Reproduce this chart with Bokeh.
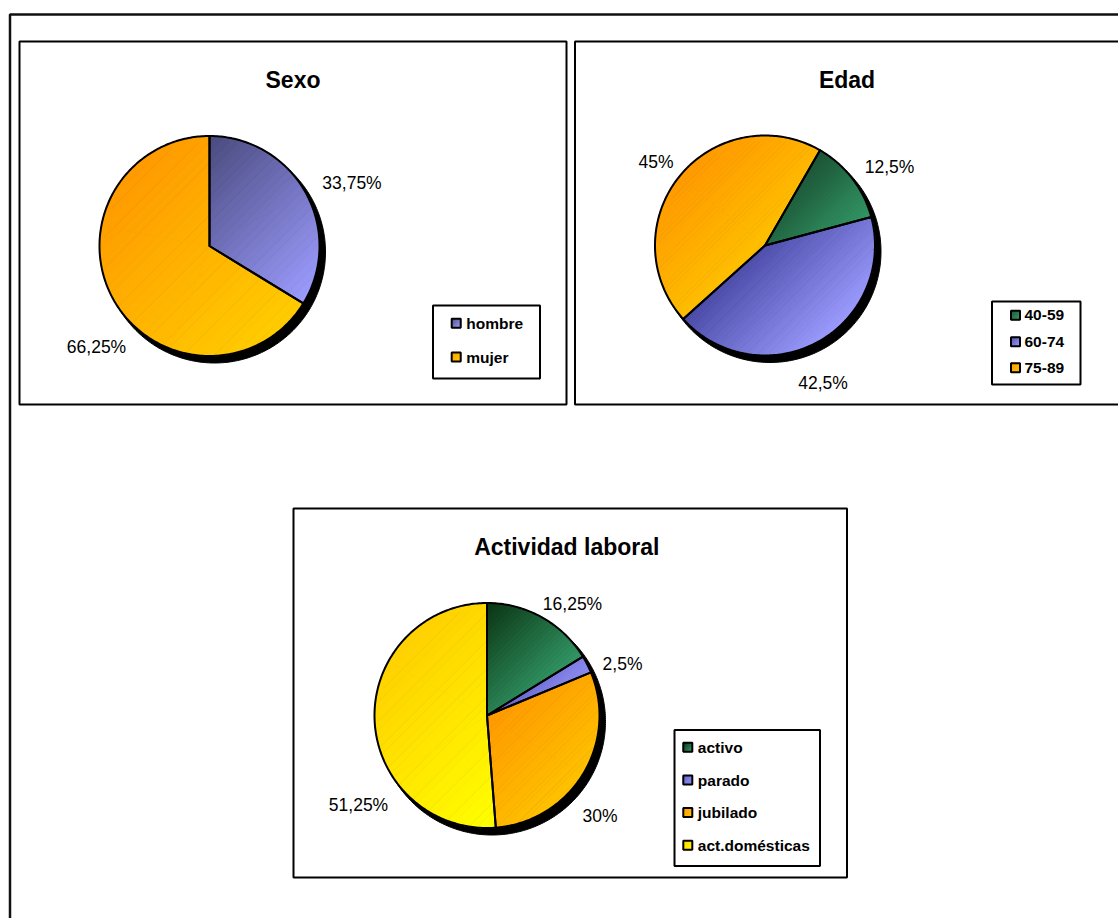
import numpy as np
from bokeh.plotting import figure
from bokeh.models import Range1d
from bokeh.embed import file_html
from bokeh.resources import INLINE
from bokeh.core.properties import value

# ---------------- data ----------------
sexo_title = "Sexo"
sexo_labels = ["hombre", "mujer"]
sexo_values = [33.75, 66.25]

edad_title = "Edad"
edad_labels = ["40-59", "60-74", "75-89"]
edad_values = [12.5, 42.5, 45.0]

act_title = "Actividad  laboral"
act_labels = ["activo", "parado", "jubilado", "act.domésticas"]
act_values = [16.25, 2.5, 30.0, 51.25]

# ---------------- styles (gradient dark -> light) ----------------
sexo_colors = [("#4A4A7E", "#9C9CFF"), ("#FF9A00", "#FFCC00")]
edad_colors = [("#1B5234", "#339966"), ("#4B4BA8", "#9C9CFF"), ("#FF9900", "#FFC000")]
act_colors = [("#0B3314", "#339966"), ("#6464CC", "#9090F4"),
              ("#FF9900", "#FFC200"), ("#FFD000", "#FFFF00")]

FONT = value("Liberation Sans")
W, H = 1118, 918

p = figure(width=W, height=H, x_range=Range1d(0, W), y_range=Range1d(H, 0),
           output_backend="svg", toolbar_location=None, min_border=0,
           x_axis_location=None, y_axis_location=None)
p.outline_line_color = None
p.grid.visible = False
p.background_fill_color = "white"
p.border_fill_color = "white"


def hex2rgb(h):
    h = h.lstrip("#")
    return np.array([int(h[i:i + 2], 16) for i in (0, 2, 4)], dtype=float)


def lerp(c1, c2, t):
    a, b = hex2rgb(c1), hex2rgb(c2)
    c = a + (b - a) * t
    return "#%02x%02x%02x" % tuple(int(round(v)) for v in c)


def clip(poly, a, b, c):
    """Keep the part of polygon where a*x + b*y <= c."""
    out = []
    n = len(poly)
    for i in range(n):
        P = poly[i]
        Q = poly[(i + 1) % n]
        fp = a * P[0] + b * P[1] - c
        fq = a * Q[0] + b * Q[1] - c
        if fp <= 0:
            out.append(P)
        if (fp <= 0) != (fq <= 0):
            t = fp / (fp - fq)
            out.append((P[0] + t * (Q[0] - P[0]), P[1] + t * (Q[1] - P[1])))
    return out


def arc_poly(cx, cy, r, a0, a1, with_center=True):
    n = max(3, int(abs(a1 - a0) / np.radians(1.0)) + 1)
    th = np.linspace(a0, a1, n)
    pts = [(cx + r * np.sin(t), cy - r * np.cos(t)) for t in th]
    if with_center:
        pts = [(cx, cy)] + pts
    return pts


def gradient_fill(pieces, c1, c2, nb=30):
    allp = np.array([pt for pc in pieces for pt in pc])
    s = allp[:, 0] + allp[:, 1]
    edges = np.linspace(s.min(), s.max(), nb + 1)
    xs, ys, cols = [], [], []
    for i in range(nb):
        col = lerp(c1, c2, (i + 0.5) / nb)
        for pc in pieces:
            q = clip(pc, 1, 1, edges[i + 1] + 0.01)
            q = clip(q, -1, -1, -(edges[i] - 0.01))
            if len(q) >= 3:
                xs.append([pt[0] for pt in q])
                ys.append([pt[1] for pt in q])
                cols.append(col)
    p.patches(xs, ys, fill_color=cols, line_color=cols, line_width=1.0)


def draw_pie(cx, cy, r, values, start_deg, colors):
    # shadow
    sh = arc_poly(cx + 5, cy + 6, r + 1, 0, 2 * np.pi, with_center=False)
    p.patch([q[0] for q in sh], [q[1] for q in sh], fill_color="black", line_color="black", line_width=1)
    total = float(sum(values))
    a = np.radians(start_deg)
    outlines_x, outlines_y = [], []
    for v, (c1, c2) in zip(values, colors):
        span = 2 * np.pi * v / total
        a0, a1 = a, a + span
        nsub = int(np.ceil(span / (np.pi / 2)))
        bounds = np.linspace(a0, a1, nsub + 1)
        pieces = [arc_poly(cx, cy, r, bounds[k], bounds[k + 1]) for k in range(nsub)]
        gradient_fill(pieces, c1, c2)
        full = arc_poly(cx, cy, r, a0, a1)
        outlines_x.append([q[0] for q in full])
        outlines_y.append([q[1] for q in full])
        a = a1
    p.patches(outlines_x, outlines_y, fill_color=None, line_color="black",
              line_width=2, line_join="round")


def fmt(v):
    return ("%g" % v).replace(".", ",") + "%"


def draw_panel(box, title, title_xy, cx, cy, r, values, start_deg, colors,
               label_xy, names, leg_box, leg_y, sw_x, txt_x):
    l, t, rr, b = box
    p.quad(left=l, right=rr, top=t, bottom=b, fill_color="white",
           line_color="black", line_width=2)
    p.text(x=[title_xy[0]], y=[title_xy[1]], text=[title], text_font=FONT,
           text_font_size="23px", text_font_style="bold", text_align="center",
           text_baseline="middle", text_color="black")
    draw_pie(cx, cy, r, values, start_deg, colors)
    p.text(x=[q[0] for q in label_xy], y=[q[1] for q in label_xy],
           text=[fmt(v) for v in values], text_font=FONT, text_font_size="17.5px",
           text_align="center", text_baseline="middle", text_color="black")
    # legend
    ll, lt, lr, lb = leg_box
    p.quad(left=ll, right=lr, top=lt, bottom=lb, fill_color="white",
           line_color="black", line_width=2)
    for yy, (c1, c2) in zip(leg_y, colors):
        sq = [(sw_x - 4.5, yy - 4.5), (sw_x + 4.5, yy - 4.5),
              (sw_x + 4.5, yy + 4.5), (sw_x - 4.5, yy + 4.5)]
        gradient_fill([sq], c1, c2, nb=6)
    p.rect(x=[sw_x] * len(leg_y), y=leg_y, width=9, height=9, fill_color=None,
           line_color="black", line_width=2)
    p.text(x=[txt_x] * len(leg_y), y=leg_y, text=names,
           text_font=FONT, text_font_size="15.5px", text_font_style="bold",
           text_align="left", text_baseline="middle", text_color="black")


# outer frame
p.quad(left=9.5, right=W + 20, top=14, bottom=H + 20, fill_color=None,
       line_color="#111111", line_width=2.5)

draw_panel((19, 41, 566, 404), sexo_title, (292.5, 79.5), 209, 245.5, 110,
           sexo_values, 0, sexo_colors,
           [(351.5, 182.5), (96, 346.2)], sexo_labels,
           (432.5, 305, 539.5, 378), [322.7, 356.5], 455.7, 465.7)

draw_panel((574.5, 41, 1121, 404), edad_title, (846.5, 79.5), 764.5, 245, 110,
           edad_values, 30, edad_colors,
           [(889, 166.2), (822.5, 382), (655.5, 161.2)], edad_labels,
           (991.5, 301, 1080, 384), [314.7, 341.3, 367.2], 1015, 1024)

draw_panel((293, 508, 846.5, 877), act_title, (569.5, 546.5), 486.5, 715, 112.5,
           act_values, 0, act_colors,
           [(572, 603), (622, 663), (599.5, 815), (358, 804.7)], act_labels,
           (674, 729.5, 819.5, 865.5), [746.7, 779.5, 812, 844.7], 687.3, 697.3)

open("out.html", "w").write(file_html(p, INLINE))
